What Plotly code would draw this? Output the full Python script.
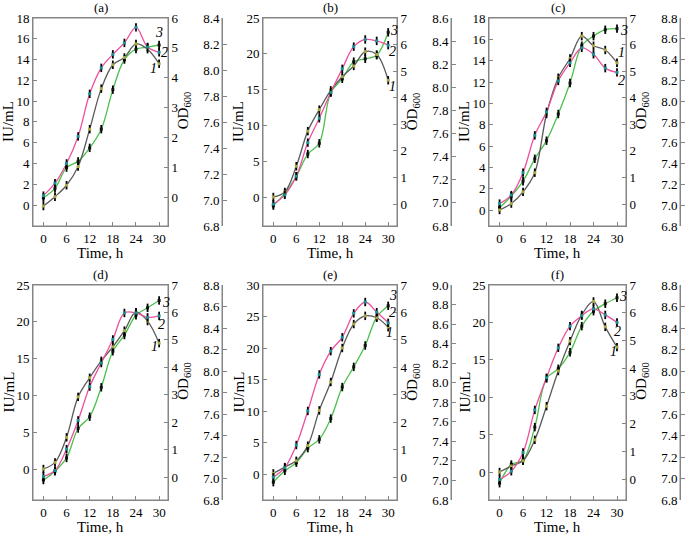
import plotly.graph_objects as go

# sampling times, h
time_h = [0, 3, 6, 9, 12, 15, 18, 21, 24, 27, 30]

panel_names = ["(a)", "(b)", "(c)", "(d)", "(e)", "(f)"]

# curve 1 (grey), curve 2 (pink), curve 3 (green), read in IU/mL units
curve1 = [
    [-0.1, 0.8, 1.9, 3.7, 7.3, 11.2, 13.5, 14.2, 15.5, 15.0, 13.6],
    [0.0, 0.7, 4.3, 9.2, 12.2, 14.9, 16.8, 18.3, 20.3, 19.9, 16.3],
    [0.0, 0.6, 1.7, 3.5, 9.0, 12.4, 14.2, 16.3, 15.4, 15.0, 13.8],
    [0.0, 0.9, 4.3, 9.8, 12.4, 14.7, 16.6, 18.8, 21.3, 20.1, 17.1],
    [0.1, 1.1, 2.1, 4.5, 10.1, 14.6, 20.0, 23.8, 25.1, 24.8, 23.3],
    [0.0, 0.8, 1.5, 4.3, 8.8, 13.5, 17.5, 21.0, 22.8, 19.4, 16.7],
]
curve2 = [
    [0.9, 2.1, 4.0, 6.6, 10.7, 13.2, 14.5, 15.6, 17.1, 15.2, 14.7],
    [-1.0, 0.3, 2.9, 7.6, 11.0, 14.6, 17.9, 21.0, 22.0, 21.8, 21.2],
    [0.6, 1.4, 3.5, 7.0, 9.2, 12.1, 13.8, 15.2, 14.6, 13.3, 12.9],
    [-1.0, -0.2, 2.7, 6.6, 11.2, 14.4, 17.6, 21.2, 21.2, 20.6, 20.8],
    [-0.5, 1.0, 4.6, 10.0, 15.8, 19.5, 21.7, 25.5, 27.3, 25.7, 24.0],
    [-1.0, 0.1, 2.6, 8.3, 12.6, 16.6, 19.5, 20.9, 21.8, 21.0, 20.0],
]
curve3 = [
    [0.7, 1.6, 3.6, 4.2, 5.5, 7.3, 11.1, 14.0, 15.0, 15.2, 15.4],
    [-1.2, 0.5, 2.9, 6.0, 7.5, 14.6, 16.5, 18.9, 19.3, 19.8, 23.0],
    [0.2, 1.3, 2.7, 4.8, 6.5, 9.0, 11.9, 15.4, 16.3, 16.9, 17.0],
    [-1.5, -0.3, 1.5, 5.5, 7.1, 11.1, 16.0, 18.2, 20.9, 21.9, 22.9],
    [-1.3, 0.5, 1.8, 4.1, 5.5, 8.8, 13.8, 17.0, 20.4, 24.9, 26.7],
    [-1.5, 1.0, 1.6, 6.0, 12.5, 13.8, 16.0, 19.5, 21.5, 22.5, 23.3],
]

iu_top = [18, 25, 18, 25, 30, 25]
iu_step = [2, 5, 2, 5, 5, 5]
od_top = [6, 7, 7, 7, 7, 7]
ph_top = [8.4, 8.6, 8.8, 8.8, 9.0, 8.8]

# where the curve numbers sit (x in h, y in IU/mL)
label_pos = [
    [(28.5, 13.1), (31.5, 14.7), (30.0, 16.6)],
    [(31.2, 15.4), (31.2, 20.3), (31.6, 23.3)],
    [(31.1, 14.8), (31.1, 12.1), (31.8, 16.8)],
    [(28.9, 16.6), (30.6, 19.6), (31.9, 22.6)],
    [(30.3, 22.4), (31.2, 25.6), (31.2, 28.3)],
    [(29.0, 16.1), (30.2, 18.8), (31.5, 23.4)],
]

W, H = 685, 539
FONT = "Liberation Serif"
AXIS_COL = "#858585"

# page geometry in pixels
cols = [(33, 168, 222), (263, 397, 451), (489, 626, 680)]
rows = [(18, 226), (285, 500)]
iu_zero_px = [205, 197, 210, 469, 474, 472]
od_zero_px = [197, 204, 204, 477, 477, 479]

styles = [
    # line colour, marker colour
    ("#5a5a5a", "#a8a848"),
    ("#ee4f9e", "#1f8f96"),
    ("#4cc04c", "#111111"),
]

fig = go.Figure()
layout = {}
annotations = []
shapes = []


def note(text, x, y, size, angle=0, xref="paper", yref="paper"):
    annotations.append(dict(x=x, y=y, xref=xref, yref=yref, text=text, textangle=angle,
                            showarrow=False, xanchor="center", yanchor="middle",
                            font=dict(family=FONT, size=size, color="black")))


for i in range(6):
    xl, xr, xp = cols[i % 3]
    yt, yb = rows[i // 3]
    xn = "" if i == 0 else str(i + 1)
    yn = [str(3 * i + 1), str(3 * i + 2), str(3 * i + 3)]
    yn = ["" if n == "1" else n for n in yn]

    ppu = (iu_zero_px[i] - yt) / iu_top[i]
    iu_range = [-(yb - iu_zero_px[i]) / ppu, iu_top[i]]
    ppo = (od_zero_px[i] - yt) / od_top[i]
    od_range = [-(yb - od_zero_px[i]) / ppo, od_top[i]]

    common = dict(showgrid=False, zeroline=False, showline=True, linecolor=AXIS_COL,
                  linewidth=1, ticks="inside", ticklen=4, tickwidth=1, tickcolor=AXIS_COL,
                  tickfont=dict(family=FONT, size=13, color="black"), automargin=False)

    layout["xaxis" + xn] = dict(domain=[xl / W, xr / W], range=[-2.7, 32.3], anchor="y" + yn[0],
                                tickvals=[0, 6, 12, 18, 24, 30], mirror=True, **common)
    layout["yaxis" + yn[0]] = dict(domain=[1 - yb / H, 1 - yt / H], range=iu_range,
                                   anchor="x" + xn,
                                   tickvals=list(range(0, iu_top[i] + 1, iu_step[i])),
                                   mirror=True, **common)
    layout["yaxis" + yn[1]] = dict(range=od_range, anchor="x" + xn,
                                   overlaying="y" + yn[0], side="right",
                                   tickvals=list(range(0, od_top[i] + 1)), **common)
    ph_ticks = [round(6.8 + 0.2 * k, 1) for k in range(int(round((ph_top[i] - 6.8) / 0.2)) + 1)]
    layout["yaxis" + yn[2]] = dict(range=[6.8, ph_top[i]], anchor="free",
                                   position=xp / W, overlaying="y" + yn[0], side="left",
                                   tickvals=ph_ticks, tickformat=".1f", **common)

    # box round each plot area, and the spine of the free pH axis
    shapes.append(dict(type="rect", xref="x" + xn + " domain", yref="y" + yn[0] + " domain",
                       x0=0, x1=1, y0=0, y1=1, line=dict(color=AXIS_COL, width=1),
                       layer="above"))
    shapes.append(dict(type="line", xref="paper", yref="y" + yn[0] + " domain",
                       x0=xp / W, x1=xp / W, y0=0, y1=1,
                       line=dict(color=AXIS_COL, width=1), layer="above"))

    # placeholders so the OD and pH axes get drawn
    for n in yn[1:]:
        fig.add_trace(go.Scatter(x=[None], y=[None], xaxis="x" + xn, yaxis="y" + n,
                                 showlegend=False))

    order = [(curve3[i], styles[2]), (curve1[i], styles[0]), (curve2[i], styles[1])]
    for series, (lc, mc) in order:
        fig.add_trace(go.Scatter(x=time_h, y=series, mode="lines",
                                 line=dict(color=lc, width=1.3, shape="spline", smoothing=1.0),
                                 xaxis="x" + xn, yaxis="y" + yn[0], showlegend=False))
    for series, (lc, mc) in order:
        fig.add_trace(go.Scatter(x=time_h, y=series, mode="markers",
                                 marker=dict(symbol="line-ns", size=6,
                                             line=dict(color="black", width=1.8)),
                                 xaxis="x" + xn, yaxis="y" + yn[0], showlegend=False))
        fig.add_trace(go.Scatter(x=time_h, y=series, mode="markers",
                                 marker=dict(symbol="square", size=3, color=mc,
                                             line=dict(width=0)),
                                 xaxis="x" + xn, yaxis="y" + yn[0], showlegend=False))

    for k, (lx, ly) in enumerate(label_pos[i]):
        note("<i>%d</i>" % (k + 1), lx, ly, 14, xref="x" + xn, yref="y" + yn[0])

    xc = (xl + xr) / 2 / W
    ym = 1 - (yt + yb) / 2 / H
    note(panel_names[i], xc, 1 - (yt - 11) / H, 13)
    note("Time, h", xc, 1 - (yb + 27) / H, 15)
    note("IU/mL", (xl - 25) / W, ym, 15, angle=-90)
    note("OD<sub>600</sub>", (xr + 16) / W, ym + 0.02, 15, angle=-90)

fig.update_layout(
    template="none",
    width=W, height=H,
    margin=dict(l=0, r=0, t=0, b=0),
    annotations=annotations,
    shapes=shapes,
    showlegend=False,
    **layout,
)

fig.write_html("out.html", post_script="document.body.style.margin = '0';",
               config={"displayModeBar": False})
